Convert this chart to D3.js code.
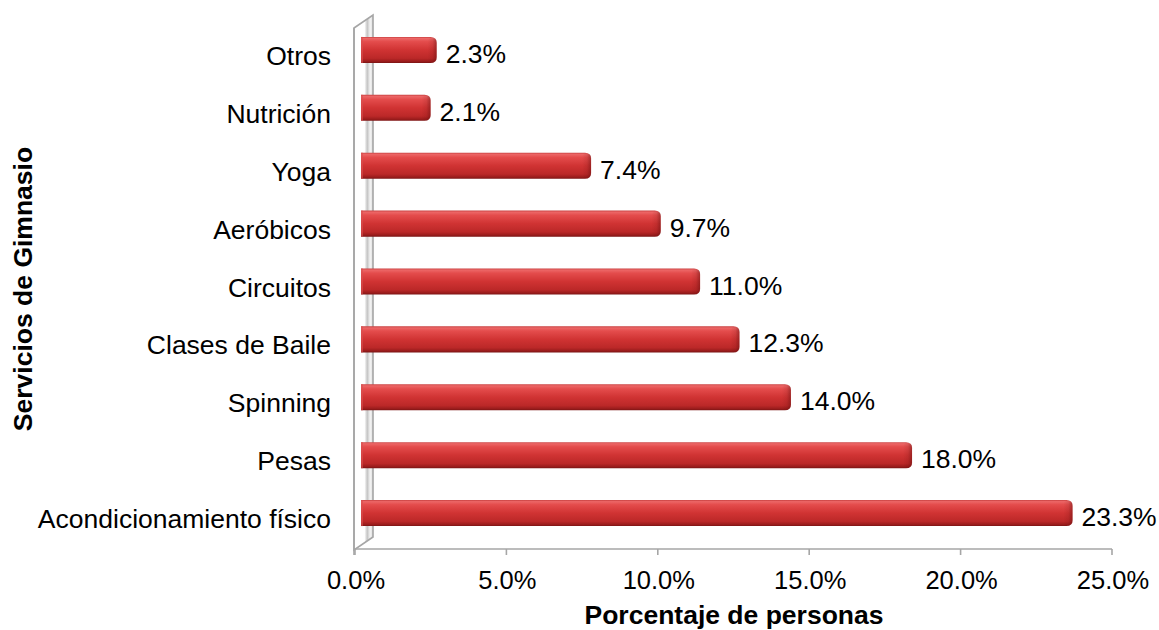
<!DOCTYPE html>
<html>
<head>
<meta charset="utf-8">
<script src="https://cdn.jsdelivr.net/npm/d3@7"></script>
<style>
  html, body { margin: 0; padding: 0; background: #ffffff; }
  svg { display: block; }
  text { font-family: "Liberation Sans", Arial, sans-serif; fill: #000; }
</style>
</head>
<body>
<svg id="chart" width="1159" height="630"></svg>
<script>
// Gym services and share of people using each one (%)
const categories = ["Otros", "Nutrición", "Yoga", "Aeróbicos", "Circuitos",
  "Clases de Baile", "Spinning", "Pesas", "Acondicionamiento físico"];
const values = [2.3, 2.1, 7.4, 9.7, 11.0, 12.3, 14.0, 18.0, 23.3];
const tickValues = [0, 5, 10, 15, 20, 25];

const svg = d3.select("#chart");
const FS = 26.5;      // category / value labels and titles
const FS_TICK = 25.5; // axis tick labels

// Floor (axis) scale and the slightly shifted scale of the bar plane
const x = d3.scaleLinear().domain([0, 25]).range([355, 1112]);
const depth = { dx: 19, dy: -13 };
const xb = d3.scaleLinear().domain([0, 25]).range([367, 1124]);
const y = d3.scaleBand().domain(categories).range([21, 542])
  .paddingInner(0.55).paddingOuter(0.275);

const defs = svg.append("defs");

// Wall shading
const wg = defs.append("linearGradient").attr("id", "wallGrad")
  .attr("x1", 0).attr("x2", 1).attr("y1", 0).attr("y2", 0);
wg.append("stop").attr("offset", "0%").attr("stop-color", "#ffffff");
wg.append("stop").attr("offset", "55%").attr("stop-color", "#ffffff");
wg.append("stop").attr("offset", "70%").attr("stop-color", "#c4c4c4");
wg.append("stop").attr("offset", "85%").attr("stop-color", "#f4f4f4");
wg.append("stop").attr("offset", "100%").attr("stop-color", "#dcdcdc");

// Bar body shading (vertical)
const bg = defs.append("linearGradient").attr("id", "barGrad")
  .attr("x1", 0).attr("x2", 0).attr("y1", 0).attr("y2", 1);
[["0%", "#c84040"], ["6%", "#ec6666"], ["18%", "#e44c4c"], ["50%", "#d03333"],
 ["82%", "#bb2828"], ["94%", "#9a1c1c"], ["100%", "#7a1414"]]
  .forEach(([o, c]) => bg.append("stop").attr("offset", o).attr("stop-color", c));

// Rounded end shading (horizontal)
const cg = defs.append("linearGradient").attr("id", "capGrad")
  .attr("x1", 0).attr("x2", 1).attr("y1", 0).attr("y2", 0);
cg.append("stop").attr("offset", "0%").attr("stop-color", "#5a0a0a").attr("stop-opacity", 0);
cg.append("stop").attr("offset", "55%").attr("stop-color", "#5a0a0a").attr("stop-opacity", 0.12);
cg.append("stop").attr("offset", "100%").attr("stop-color", "#5a0a0a").attr("stop-opacity", 0.45);

// Back wall with thickness
const wallTop = 28, wallBottom = 550;
const x0 = x(0) - 1;
svg.append("path")
  .attr("d", `M${x0},${wallTop} L${x0 + depth.dx},${wallTop + depth.dy} L${x0 + depth.dx},${wallBottom + depth.dy} L${x0},${wallBottom} Z`)
  .attr("fill", "url(#wallGrad)")
  .attr("stroke", "#a6a6a6").attr("stroke-width", 1.6);

// Floor front edge = value axis line
const axisY = 549;
svg.append("line")
  .attr("x1", x0).attr("x2", x(25)).attr("y1", axisY).attr("y2", axisY)
  .attr("stroke", "#a6a6a6").attr("stroke-width", 1.6);
svg.selectAll(".tick")
  .data(tickValues).join("line")
  .attr("class", "tick")
  .attr("x1", d => x(d)).attr("x2", d => x(d))
  .attr("y1", axisY).attr("y2", axisY + 6)
  .attr("stroke", "#a6a6a6").attr("stroke-width", 1.6);
svg.append("line")
  .attr("x1", x0).attr("x2", x0).attr("y1", wallTop).attr("y2", axisY + 6)
  .attr("stroke", "#a6a6a6").attr("stroke-width", 1.6);

// Tick labels
svg.selectAll(".tickLabel")
  .data(tickValues).join("text")
  .attr("class", "tickLabel")
  .attr("x", d => x(d) + 1).attr("y", 589)
  .attr("text-anchor", "middle")
  .attr("font-size", FS_TICK)
  .text(d => d.toFixed(1) + "%");

// Bars
const barStart = 361;
const bars = svg.append("g").selectAll("g.bar")
  .data(categories.map((c, i) => ({ c, v: values[i] })))
  .join("g").attr("class", "bar");

function barPath(d, r) {
  const top = y(d.c), h = y.bandwidth(), right = xb(d.v);
  return `M${barStart},${top} L${right - r},${top} Q${right},${top} ${right},${top + r}` +
    ` L${right},${top + h - r} Q${right},${top + h} ${right - r},${top + h} L${barStart},${top + h} Z`;
}
bars.append("path")
  .attr("d", d => barPath(d, 6))
  .attr("fill", "url(#barGrad)");
bars.append("rect")
  .attr("x", d => xb(d.v) - 9)
  .attr("y", d => y(d.c) + 1)
  .attr("width", 9)
  .attr("height", y.bandwidth() - 2)
  .attr("rx", 4)
  .attr("fill", "url(#capGrad)");
// light edge at the left end
bars.append("rect")
  .attr("x", barStart)
  .attr("y", d => y(d.c))
  .attr("width", 2)
  .attr("height", y.bandwidth())
  .attr("fill", "#d85050").attr("opacity", 0.6);

// Value labels
bars.append("text")
  .attr("x", d => xb(d.v) + 9)
  .attr("y", d => y(d.c) + y.bandwidth() / 2 + 13)
  .attr("font-size", FS)
  .text(d => d.v.toFixed(1) + "%");

// Category labels
svg.selectAll(".catLabel")
  .data(categories).join("text")
  .attr("class", "catLabel")
  .attr("x", 331)
  .attr("y", d => y(d) + y.bandwidth() / 2 + 15)
  .attr("text-anchor", "end")
  .attr("font-size", FS)
  .text(d => d);

// Axis titles
svg.append("text")
  .attr("x", 734).attr("y", 624)
  .attr("text-anchor", "middle")
  .attr("font-size", FS).attr("font-weight", "bold")
  .text("Porcentaje de personas");
svg.append("text")
  .attr("transform", "translate(32,289) rotate(-90)")
  .attr("text-anchor", "middle")
  .attr("font-size", FS).attr("font-weight", "bold")
  .text("Servicios de Gimnasio");
</script>
</body>
</html>
